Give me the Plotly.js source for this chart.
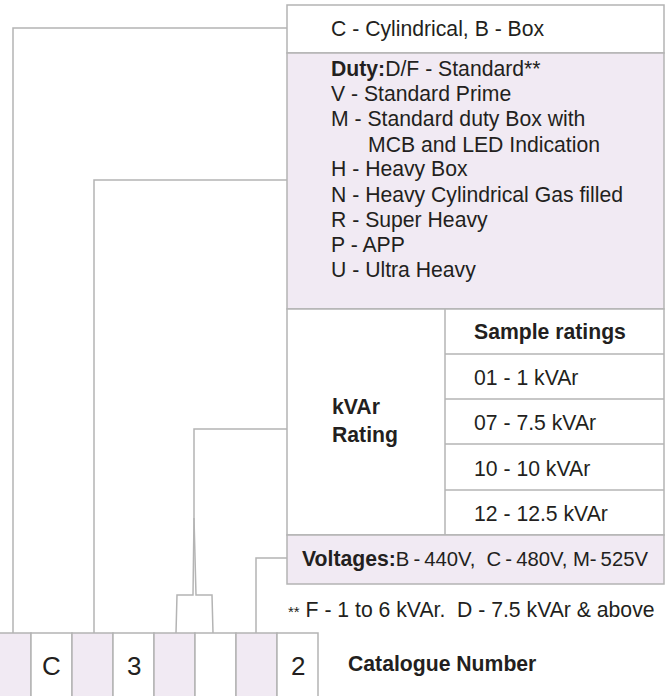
<!DOCTYPE html>
<html>
<head>
<meta charset="utf-8">
<script src="https://cdn.plot.ly/plotly-3.0.1.min.js"></script>
<style>html,body{margin:0;padding:0;background:#fff;}#chart{width:668px;height:696px;}</style>
</head>
<body>
<div id="chart"></div>
<script>
// ---- content ----
const typeText = "C - Cylindrical, B - Box";
const dutyLabel = "Duty:";
const dutyItems = ["D/F - Standard**", "V - Standard Prime", "M - Standard duty Box with",
  "MCB and LED Indication", "H - Heavy Box", "N - Heavy Cylindrical Gas filled",
  "R - Super Heavy", "P - APP", "U - Ultra Heavy"];
const dutyIndent = [false, false, false, true, false, false, false, false, false];
const ratingLabel = ["kVAr", "Rating"];
const ratingHeader = "Sample ratings";
const ratingItems = ["01 - 1 kVAr", "07 - 7.5 kVAr", "10 - 10 kVAr", "12 - 12.5 kVAr"];
const voltageLabel = "Voltages:";
const voltageItems = "B\u2009-\u2009440V,\u00a0 C\u2009-\u2009480V, M-\u2009525V";
const footnote = "F - 1 to 6 kVAr.\u00a0 D - 7.5 kVAr & above";
const cellLabels = ["", "C", "", "3", "", "", "", "2"];
const cellShaded = [true, false, true, false, true, false, true, false];
const catalogueTitle = "Catalogue Number";

// ---- styling / geometry ----
const LAV = "#f1eaf3", LINE = "#b4b4b4", TXT = "#231f20";
const FONT = "Liberation Sans, Arial, Helvetica, sans-serif";
const FS = 21.2;
const BX0 = 287, BX1 = 664, SPLIT = 445;
const yType = [5, 53], yDuty = [53, 309], yRate = [309, 535], yVolt = [535, 584];
const rateRows = [309, 354, 399, 444, 490, 535];
const cellTop = 633, cellBot = 700, cellX0 = -10, cellW = 41;

const shapes = [];
const ann = [];
function rect(x0, y0, x1, y1, fill) {
  shapes.push({type: "rect", xref: "x", yref: "y", x0, y0, x1, y1,
    fillcolor: fill, line: {color: LINE, width: 1.5}, layer: "below"});
}
function line(x0, y0, x1, y1) {
  shapes.push({type: "line", xref: "x", yref: "y", x0, y0, x1, y1, line: {color: LINE, width: 1.5}});
}
function path(d) {
  shapes.push({type: "path", xref: "x", yref: "y", path: d, line: {color: LINE, width: 1.5}});
}
function text(x, y, t, size, opts) {
  ann.push(Object.assign({x, y, xref: "x", yref: "y", text: t, showarrow: false,
    xanchor: "left", yanchor: "middle", font: {family: FONT, size: size, color: TXT}}, opts || {}));
}

// boxes
rect(BX0, yType[0], BX1, yType[1], "#ffffff");
rect(BX0, yDuty[0], BX1, yDuty[1], LAV);
rect(BX0, yRate[0], BX1, yRate[1], "#ffffff");
rect(BX0, yVolt[0], BX1, yVolt[1], LAV);
line(SPLIT, yRate[0], SPLIT, yRate[1]);
for (let i = 1; i < rateRows.length - 1; i++) line(SPLIT, rateRows[i], BX1, rateRows[i]);

// catalogue cells
cellLabels.forEach((lab, i) => {
  const x0 = cellX0 + i * cellW;
  rect(x0, cellTop, x0 + cellW, cellBot, cellShaded[i] ? LAV : "#ffffff");
  if (lab) text(x0 + cellW / 2, 666, lab, 26, {xanchor: "center"});
});

// connector lines
path("M13,633 L13,28 L287,28");
path("M94,633 L94,180 L287,180");
path("M287,429 L194,429 L194,518");
path("M194,518 L193,595 L177,595 L176,633");
path("M194,518 L196,595 L212,595 L213,633");
path("M256,633 L256,558 L287,558");

// texts
text(329, 29, typeText, FS);
const dutyY0 = 68.5, dutyStep = 25.2;
dutyItems.forEach((t, i) => {
  const y = dutyY0 + i * dutyStep;
  if (i === 0) text(329, y, "<b>" + dutyLabel + "</b>" + t, FS);
  else text(dutyIndent[i] ? 366 : 329, y, t, FS);
});
text(330, 406, "<b>" + ratingLabel[0] + "</b>", FS);
text(330, 435, "<b>" + ratingLabel[1] + "</b>", FS);
text(472, 332, "<b>" + ratingHeader + "</b>", FS);
ratingItems.forEach((t, i) => text(472, (rateRows[i + 1] + rateRows[i + 2]) / 2 + 1, t, FS));
text(300, 559, "<b>" + voltageLabel + "</b><span style='font-size:20.3px'>" + voltageItems + "</span>", FS);
text(286, 609, "<span style='font-size:15px'>**</span> " + footnote, FS);
text(346, 664, "<b>" + catalogueTitle + "</b>", FS);

const layout = {
  width: 668, height: 696,
  margin: {l: 0, r: 0, t: 0, b: 0},
  paper_bgcolor: "#ffffff", plot_bgcolor: "#ffffff",
  showlegend: false,
  xaxis: {range: [0, 668], visible: false, fixedrange: true},
  yaxis: {range: [696, 0], visible: false, fixedrange: true},
  shapes: shapes,
  annotations: ann
};
Plotly.newPlot("chart", [], layout, {staticPlot: true, displayModeBar: false});
</script>
</body>
</html>
